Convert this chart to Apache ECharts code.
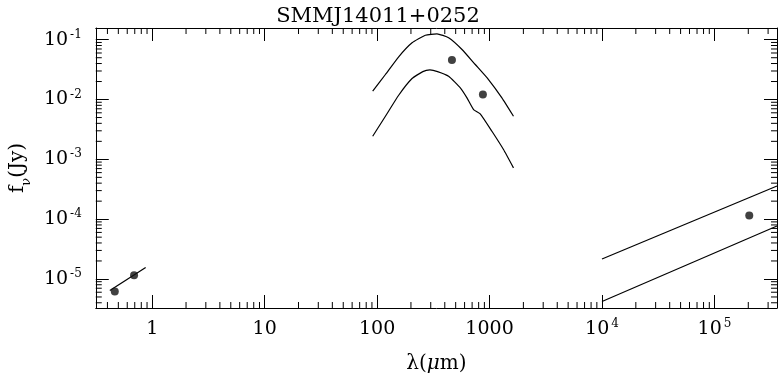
<!DOCTYPE html>
<html>
<head>
<meta charset="utf-8">
<script src="https://cdn.jsdelivr.net/npm/echarts@6/dist/echarts.min.js"></script>
<style>
  html, body { margin: 0; padding: 0; background: #fff; }
  #chart { width: 778px; height: 381px; }
</style>
</head>
<body>
<div id="chart"></div>
<script>
// axis ranges (log axes)
const xRange = [0.315, 3.6e5]
const yRange = [3.27e-6, 0.157]

// tick labels, keyed by exponent
const xTickLabels = { 0: '1', 1: '10', 2: '100', 3: '1000', 4: '10{sup|4}', 5: '10{sup|5}' }
const yTickLabels = { '-1': '10{sup|-1}', '-2': '10{sup|-2}', '-3': '10{sup|-3}', '-4': '10{sup|-4}', '-5': '10{sup|-5}' }
const minorMults = [2, 3, 4, 5, 6, 7, 8, 9]
const xDecades = [-1, 0, 1, 2, 3, 4, 5]
const yDecades = [-6, -5, -4, -3, -2]

// optical points and fit
const optPoints = [[0.465, 6.2e-6], [0.69, 1.15e-5]]
const optLine = [[0.42, 6.4e-6], [0.875, 1.56e-5]]

// submm points and dust SED envelope
const submmPoints = [[463, 0.046], [873, 0.0121]]
const dustUpperX = [91.4, 118.6, 155.6, 204.6, 268.6, 341, 432.5, 569, 746, 979, 1288, 1633]
const dustUpperY = [0.01377, 0.0262, 0.0518, 0.0888, 0.1189, 0.1256, 0.1077, 0.0686, 0.0385, 0.0216, 0.01067, 0.00526]
const dustLowerX = [91.4, 118.6, 155.6, 204.6, 255, 295, 345, 432.5, 550, 630, 721, 826, 1050, 1331, 1633]
const dustLowerY = [0.00243, 0.00526, 0.0118, 0.02244, 0.0293, 0.0312, 0.0293, 0.0245, 0.0157, 0.01067, 0.0068, 0.00577, 0.00295, 0.00146, 0.00072]

// radio point and synchrotron envelope
const radioPoints = [[2.04e5, 1.15e-4]]
const radioUpper = [[1e4, 2.16e-5], [3.6e5, 3.58e-4]]
const radioLower = [[1e4, 4.2e-6], [3.6e5, 7.7e-5]]

const FONT = 'DejaVu Serif'

function zip(xs, ys) {
  return xs.map((x, i) => [x, ys[i]])
}

function minorTicks(decades, range) {
  const out = []
  decades.forEach(d => {
    minorMults.forEach(m => {
      const v = m * Math.pow(10, d)
      if (v > range[0] && v < range[1]) out.push(v)
    })
  })
  return out
}

function tickRenderer(side, len) {
  return function (params, api) {
    const cs = params.coordSys
    let shape
    if (side === 'bottom' || side === 'top') {
      const x = api.coord([api.value(0), api.value(1)])[0]
      const y0 = side === 'bottom' ? cs.y + cs.height : cs.y
      shape = { x1: x, y1: y0, x2: x, y2: side === 'bottom' ? y0 - len : y0 + len }
    } else {
      const y = api.coord([api.value(0), api.value(1)])[1]
      const x0 = side === 'left' ? cs.x : cs.x + cs.width
      shape = { x1: x0, y1: y, x2: side === 'left' ? x0 + len : x0 - len, y2: y }
    }
    return { type: 'line', shape: shape, style: { stroke: '#000', lineWidth: 1 } }
  }
}

function expOf(v) {
  const l = Math.log10(v)
  const e = Math.round(l)
  return Math.abs(l - e) < 1e-6 ? e : null
}

const supRich = {
  sup: { fontFamily: FONT, fontSize: 12, verticalAlign: 'top', lineHeight: 22, padding: [0, 0, 0, 2], color: '#000' }
}

function makeAxis(kind, pos, showLabel) {
  const isX = kind === 'x'
  return {
    type: 'log',
    logBase: 10,
    position: pos,
    min: isX ? xRange[0] : yRange[0],
    max: isX ? xRange[1] : yRange[1],
    splitNumber: isX ? 6 : 5,
    axisLine: { show: true, lineStyle: { color: '#000', width: 1 } },
    axisTick: { show: true, inside: true, length: 13, lineStyle: { color: '#000', width: 1 } },
    splitLine: { show: false },
    minorTick: { show: false },
    axisLabel: {
      show: showLabel,
      showMinLabel: false,
      showMaxLabel: false,
      margin: isX ? 10 : 14,
      fontFamily: FONT,
      fontSize: 19,
      lineHeight: 22,
      color: '#000',
      rich: supRich,
      formatter: function (v) {
        const e = expOf(v)
        if (e === null) return ''
        const lab = isX ? xTickLabels[e] : yTickLabels[String(e)]
        return lab || ''
      }
    }
  }
}

const xBottom = makeAxis('x', 'bottom', true)
xBottom.name = 'λ({mu|μ}m)'
xBottom.nameLocation = 'middle'
xBottom.nameGap = 46
xBottom.nameTextStyle = {
  fontFamily: FONT, fontSize: 20, color: '#000',
  rich: { mu: { fontFamily: FONT, fontStyle: 'italic', fontSize: 20, color: '#000' } }
}
const xTop = makeAxis('x', 'top', false)
const yLeft = makeAxis('y', 'left', true)
yLeft.name = 'f{sub|ν}(Jy)'
yLeft.nameLocation = 'middle'
yLeft.nameRotate = 90
yLeft.nameGap = 60
yLeft.nameTextStyle = {
  fontFamily: FONT, fontSize: 20, color: '#000',
  rich: { sub: { fontFamily: FONT, fontSize: 13, verticalAlign: 'bottom', lineHeight: 30, color: '#000' } }
}
const yRight = makeAxis('y', 'right', false)

const xMinor = minorTicks(xDecades, xRange)
const yMinor = minorTicks(yDecades, yRange)

function lineSeries(data, smooth) {
  return {
    type: 'line', data: data, showSymbol: false, smooth: smooth || false,
    lineStyle: { color: '#000', width: 1.2 }, silent: true, z: 3
  }
}

function pointSeries(data) {
  return {
    type: 'scatter', data: data, symbol: 'circle', symbolSize: 8,
    itemStyle: { color: '#111' }, z: 4
  }
}

function tickSeries(side, data, len) {
  return {
    type: 'custom',
    xAxisIndex: 0, yAxisIndex: 0,
    data: data,
    renderItem: tickRenderer(side, len),
    silent: true, z: 5
  }
}

const option = {
  animation: false,
  backgroundColor: '#fff',
  title: {
    text: 'SMMJ14011+0252',
    left: 373,
    top: 1,
    textAlign: 'center',
    textStyle: { fontFamily: FONT, fontSize: 21, fontWeight: 'normal', color: '#000' }
  },
  grid: { left: 95, right: 1, top: 28, bottom: 73, containLabel: false },
  xAxis: [xBottom, xTop],
  yAxis: [yLeft, yRight],
  series: [
    lineSeries(optLine),
    pointSeries(optPoints),
    lineSeries(zip(dustUpperX, dustUpperY), 0.15),
    lineSeries(zip(dustLowerX, dustLowerY), 0.15),
    pointSeries(submmPoints),
    lineSeries(radioUpper),
    lineSeries(radioLower),
    pointSeries(radioPoints),
    tickSeries('bottom', xMinor.map(v => [v, 1e-3]), 6),
    tickSeries('top', xMinor.map(v => [v, 1e-3]), 6),
    tickSeries('left', yMinor.map(v => [1, v]), 6),
    tickSeries('right', yMinor.map(v => [1, v]), 6)
  ]
}

const chart = echarts.init(document.getElementById('chart'), null, { renderer: 'canvas' })
chart.setOption(option)
</script>
</body>
</html>
